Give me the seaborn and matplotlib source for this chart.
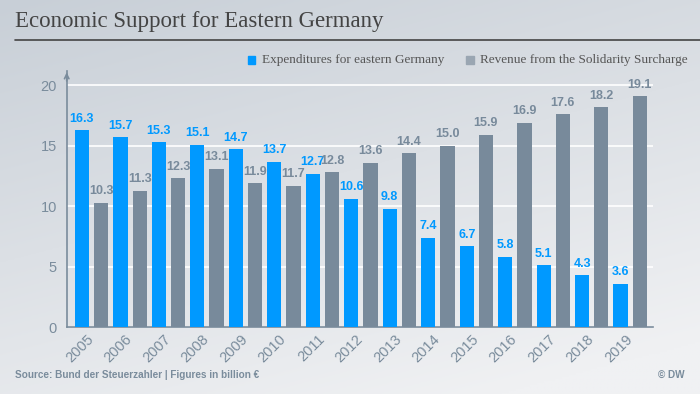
import numpy as np
import pandas as pd
import matplotlib
matplotlib.use("Agg")
import matplotlib.pyplot as plt
import matplotlib.transforms as mtransforms
import seaborn as sns

years = [str(y) for y in range(2005, 2020)]
expenditures = [16.3, 15.7, 15.3, 15.1, 14.7, 13.7, 12.7, 10.6, 9.8, 7.4, 6.7, 5.8, 5.1, 4.3, 3.6]
revenue = [10.3, 11.3, 12.3, 13.1, 11.9, 11.7, 12.8, 13.6, 14.4, 15.0, 15.9, 16.9, 17.6, 18.2, 19.1]
series = ["Expenditures for eastern Germany", "Revenue from the Solidarity Surcharge"]

BLUE = "#0099FF"
GREY = "#788A9B"
TXT = "#7A8C9C"

df = pd.DataFrame({
    "year": years * 2,
    "value": expenditures + revenue,
    "series": [series[0]] * len(years) + [series[1]] * len(years),
})

sns.set_theme(style="white")
plt.rcParams["font.family"] = ["Liberation Sans", "DejaVu Sans"]

fig = plt.figure(figsize=(7, 3.94), dpi=100)

# gradient background
bg = fig.add_axes([0, 0, 1, 1], zorder=-10)
yy, xx = np.mgrid[0:1:200j, 0:1:200j]
t = np.clip(0.75 * yy + 0.35 * xx, 0, 1)
c0 = np.array([0xc8, 0xcf, 0xd7]) / 255
c1 = np.array([0xf0, 0xf1, 0xf3]) / 255
img = c0[None, None, :] * (1 - t[..., None]) + c1[None, None, :] * t[..., None]
bg.imshow(img, aspect="auto", extent=[0, 1, 0, 1], origin="upper")
bg.axis("off")

ax = fig.add_axes([0.0953, 0.170, 0.838, 0.650])
ax.patch.set_alpha(0)
sns.barplot(data=df, x="year", y="value", hue="series", palette=[BLUE, GREY],
            width=1.0, gap=0.26, saturation=1, linewidth=0, ax=ax,
            legend=False, zorder=3)

for cont, col in zip(ax.containers, [BLUE, GREY]):
    ax.bar_label(cont, fmt="%.1f", padding=4, color=col, fontsize=9, fontweight="bold")

ax.set_xlim(-0.645, 14.6)
ax.set_ylim(0, 21.2)
ax.set_yticks([0, 5, 10, 15, 20])
ax.yaxis.grid(True, color="white", linewidth=1.2, zorder=0)
ax.set_axisbelow(True)
ax.set_xlabel("")
ax.set_ylabel("")
ax.tick_params(axis="both", length=0, colors=TXT, labelsize=10.5)
ax.tick_params(axis="y", pad=7)
ax.tick_params(axis="x", pad=2)
shift = mtransforms.ScaledTranslation(-0.05, -0.02, fig.dpi_scale_trans)
for lab in ax.get_xticklabels():
    lab.set_rotation(45)
    lab.set_ha("right")
    lab.set_rotation_mode("anchor")
    lab.set_transform(lab.get_transform() + shift)
for s in ["top", "right"]:
    ax.spines[s].set_visible(False)
for s in ["left", "bottom"]:
    ax.spines[s].set_color(TXT)
    ax.spines[s].set_linewidth(1.2)
ax.annotate("", xy=(0, 1.005), xytext=(0, 0.95), xycoords="axes fraction",
            arrowprops=dict(arrowstyle="->", color=TXT, lw=1.2, mutation_scale=8))

# title and rule
fig.text(0.022, 0.945, "Economic Support for Eastern Germany", fontsize=16.5,
         family=["Liberation Serif", "DejaVu Serif"], color="#444444", va="center")
fig.add_artist(plt.Line2D([0.021, 1.0], [0.898, 0.898], color="#444444", lw=1.2))

# legend
fig.patches.append(plt.Rectangle((248 / 700, 1 - 64 / 394), 7.5 / 700, 7.5 / 394,
                                 color=BLUE, transform=fig.transFigure))
fig.text(262 / 700, 1 - 60.5 / 394, series[0], fontsize=9.5,
         family=["Liberation Serif", "DejaVu Serif"], color="#555555", va="center")
fig.patches.append(plt.Rectangle((466 / 700, 1 - 64 / 394), 7.5 / 700, 7.5 / 394,
                                 color="#9AA6B2", transform=fig.transFigure))
fig.text(480 / 700, 1 - 60.5 / 394, series[1], fontsize=9.5,
         family=["Liberation Serif", "DejaVu Serif"], color="#555555", va="center")

# footer
fig.text(15 / 700, 1 - 375 / 394, "Source: Bund der Steuerzahler | Figures in billion \u20ac",
         fontsize=7.2, fontweight="bold", color=TXT, va="center")
fig.text(685 / 700, 1 - 375 / 394, "\u00a9 DW", fontsize=7.2, fontweight="bold",
         color=TXT, va="center", ha="right")

fig.savefig("out.png", dpi=100)
